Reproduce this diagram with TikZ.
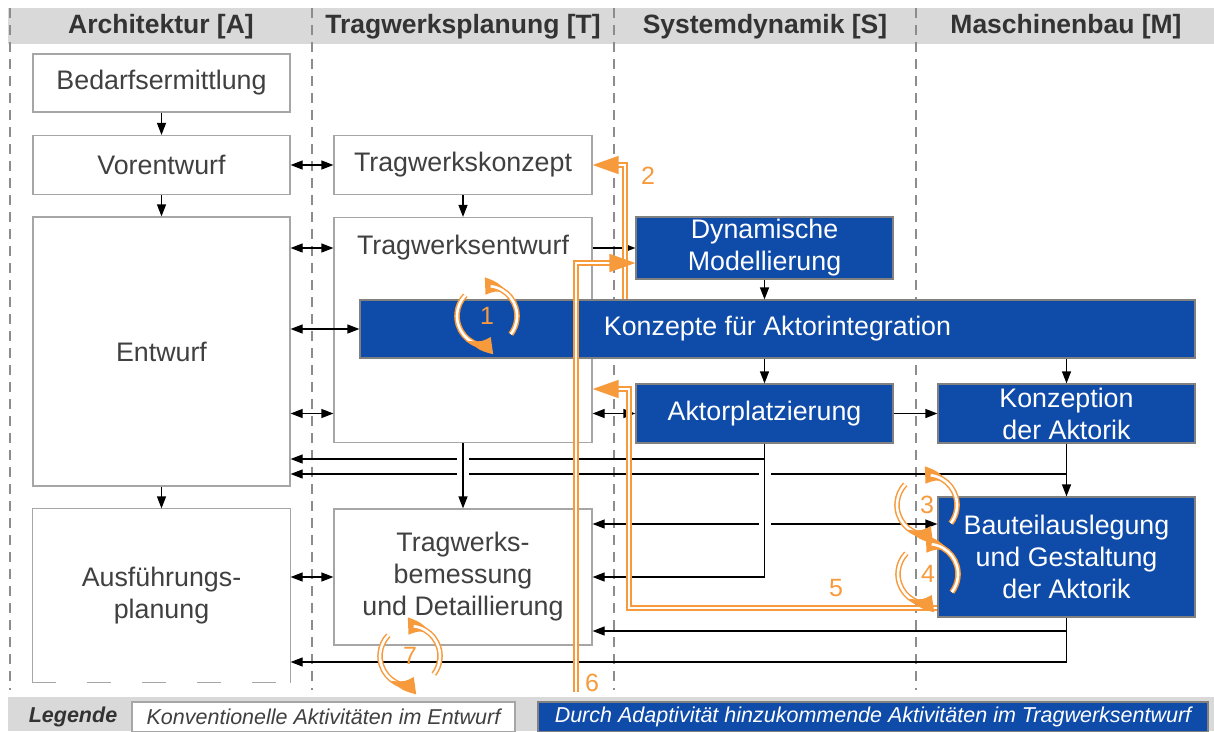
\documentclass[tikz,border=0pt]{standalone}
\usepackage{fontspec}
\setmainfont{Liberation Sans}
\usepackage{xcolor}
\usepackage{tikz}
\usetikzlibrary{arrows.meta,bending,positioning}
\definecolor{laneGray}{HTML}{D9D9D9}
\definecolor{dashGray}{HTML}{8C8C8C}
\definecolor{boxGray}{HTML}{A6A6A6}
\definecolor{textGray}{HTML}{404040}
\definecolor{headGray}{HTML}{333333}
\definecolor{adaptBlue}{HTML}{0F4BA8}
\definecolor{loopOrange}{HTML}{F79A3B}
\newcommand\fntBox{\fontsize{26.8}{32}\selectfont}
\newcommand\fntHead{\fontsize{26.5}{30}\selectfont}
\newcommand\fntLeg{\fontsize{21.5}{25}\selectfont}
\newcommand\fntNum{\fontsize{25}{28}\selectfont}

\begin{document}
\begin{tikzpicture}[
  x=1pt,y=-1pt,
  box/.style={rectangle,draw=boxGray,fill=white,line width=1.2pt,inner sep=0pt,align=center,text=textGray,font=\fntBox},
  bluebox/.style={box,fill=adaptBlue,draw=gray,text=white},
  head/.style={font=\fntHead\bfseries,text=headGray},
  lane/.style={dashGray,line width=1.8pt,dash pattern=on 10pt off 7pt},
  conn/.style={line width=1.2pt,color=black},
  arrow/.style={conn,-{Triangle[length=12pt,width=9pt]}},
  twoway/.style={conn,{Triangle[length=12pt,width=9pt]}-{Triangle[length=12pt,width=9pt]}},
  bridge/.style={preaction={draw=white,-,line width=12pt,shorten <=5pt,shorten >=5pt}},
  feedback/.style={draw=loopOrange,line width=1.5pt,double=white,double distance=2.6pt,-{Triangle[length=26pt,width=18pt]}},
  loopArc/.style={feedback,-{Triangle[length=22pt,width=17pt,bend]}},
  num/.style={text=loopOrange,font=\fntNum,inner sep=0pt}
]
\useasboundingbox (0,0) rectangle (1214,731);
\fill[laneGray] (8,8) rectangle (1214,44);
\fill[laneGray] (8,697) rectangle (1214,731);
\foreach \x in {10,312,614,916}
  \draw[lane] (\x,8) -- (\x,690);

\node[head] (hA) at (161,27) {Architektur [A]};
\node[head] (hT) at (463,27) {Tragwerksplanung [T]};
\node[head] (hS) at (765,27) {Systemdynamik [S]};
\node[head] (hM) at (1066,27) {Maschinenbau [M]};

\node[box,minimum width=257pt,minimum height=58pt] (bedarf) at (161.5,83) {Bedarfsermittlung};
\node[box,minimum width=257pt,minimum height=59pt] (vorentw) at (161.5,165) {Vorentwurf};
\node[box,minimum width=257pt,minimum height=269pt] (entwurf) at (161.5,351.5) {Entwurf};
\node[box,draw=none,minimum width=257pt,minimum height=173pt] (ausf) at (161.5,595.5) {Ausführungs-\\planung};
\draw[boxGray,line width=1.2pt] (ausf.south west) -- (ausf.north west) -- (ausf.north east) -- (ausf.south east);
\draw[boxGray,line width=1.2pt,dash pattern=on 24pt off 31pt] (ausf.south west) -- (ausf.south east);
\node[box,minimum width=258pt,minimum height=59pt] (tkonz) at (463,165) {Tragwerkskonzept};
\node[box,minimum width=258pt,minimum height=225pt,
  label={[name=tentwLbl,anchor=center,yshift=-31pt,text=textGray,font=\fntBox]north:Tragwerksentwurf}] (tentw) at (463,330) {};
\node[box,minimum width=258pt,minimum height=136pt] (bemess) at (463,577) {Tragwerks-\\bemessung\\und Detaillierung};
\node[bluebox,minimum width=257pt,minimum height=62pt] (dyn) at (764.5,248) {Dynamische\\Modellierung};
\node[bluebox,minimum width=835pt,minimum height=58pt] (konz) at (777.5,329) {Konzepte für Aktorintegration};
\node[bluebox,minimum width=257pt,minimum height=59pt] (aktor) at (764.5,413.5) {Aktorplatzierung};
\node[bluebox,minimum width=257pt,minimum height=59pt] (kaktor) at (1066.5,413.5) {Konzeption\\der Aktorik};
\node[bluebox,minimum width=257pt,minimum height=120pt] (bauteil) at (1066.5,557) {Bauteilauslegung\\und Gestaltung\\der Aktorik};

\coordinate (busA) at (0,459);
\coordinate (busB) at (0,474);
\coordinate (busC) at (0,524);
\coordinate (busE) at (0,631);
\coordinate (busF) at (0,662);

\draw[arrow] (bedarf) -- (vorentw);
\draw[arrow] (vorentw) -- (entwurf);
\draw[arrow] (entwurf) -- (ausf);
\draw[arrow] (tkonz) -- (tentw);
\draw[twoway] (vorentw) -- (tkonz);
\draw[twoway] (entwurf.east |- dyn.west) -- (tentw.west |- dyn.west);
\draw[twoway] (entwurf.east |- konz.west) -- (konz.west);
\draw[twoway] (entwurf.east |- aktor.west) -- (tentw.west |- aktor.west);
\draw[twoway] (ausf.east |- bemess.west) -- (bemess.west);
\draw[arrow] (tentw.east |- dyn.west) -- (dyn.west);
\draw[twoway] (tentw.east |- aktor.west) -- (aktor.west);
\draw[arrow] (dyn) -- (dyn.south |- konz.north);
\draw[arrow] (aktor.north |- konz.south) -- (aktor);
\draw[arrow] (kaktor.north |- konz.south) -- (kaktor);
\draw[arrow] (aktor) -- (kaktor);
\draw[arrow] (kaktor) -- (bauteil);
\draw[arrow] (aktor.south) |- (entwurf.east |- busA);
\draw[arrow] (kaktor.south) |- (entwurf.east |- busB);
\draw[twoway] (bemess.east |- busC) -- (bauteil.west |- busC);
\draw[arrow] (aktor.south) |- (bemess.east);
\draw[arrow] (bauteil.south) |- (bemess.east |- busE);
\draw[arrow] (bauteil.south) |- (ausf.east |- busF);
\draw[arrow,bridge] (tentw) -- (bemess);
\draw[conn,bridge] (aktor.south |- busA) -- (aktor.south |- bemess.east);

\coordinate (o2) at (625,0);
\coordinate (o5) at (629,389);
\coordinate (o6) at (576,692);
\draw[feedback] (konz.north -| o2) |- (tkonz.east);
\draw[feedback] (o6) |- ([yshift=-15pt]dyn.west);
\draw[feedback] ([yshift=-51pt]bauteil.west) -| (o5) -- (tentw.east |- o5);
\node[num] (n2) at (648,176) {2};
\node[num] (n5) at (836,588) {5};
\node[num] (n6) at (592,683) {6};

\foreach \cx/\cy/\n in {487/316/1,927/505/3,928/574/4,410/656/7}{
  \node[num] (loop\n) at (\cx,\cy) {\n};
  \draw[loopArc] (loop\n.center) ++(95:30) arc[start angle=95,end angle=264,radius=30];
  \draw[loopArc] (loop\n.center) ++(277:30) arc[start angle=277,end angle=438,radius=30];
}

\node[font=\fntLeg\bfseries\itshape,text=headGray] (legTitle) at (73,717) {Legende};
\node[box,minimum width=383pt,minimum height=30pt,font=\fntLeg\itshape] (legConv) at (323.5,717) {Konventionelle Aktivitäten im Entwurf};
\node[bluebox,minimum width=670pt,minimum height=30pt,font=\fntLeg\itshape] (legAdapt) at (873,717) {Durch Adaptivität hinzukommende Aktivitäten im Tragwerksentwurf};
\end{tikzpicture}
\end{document}
